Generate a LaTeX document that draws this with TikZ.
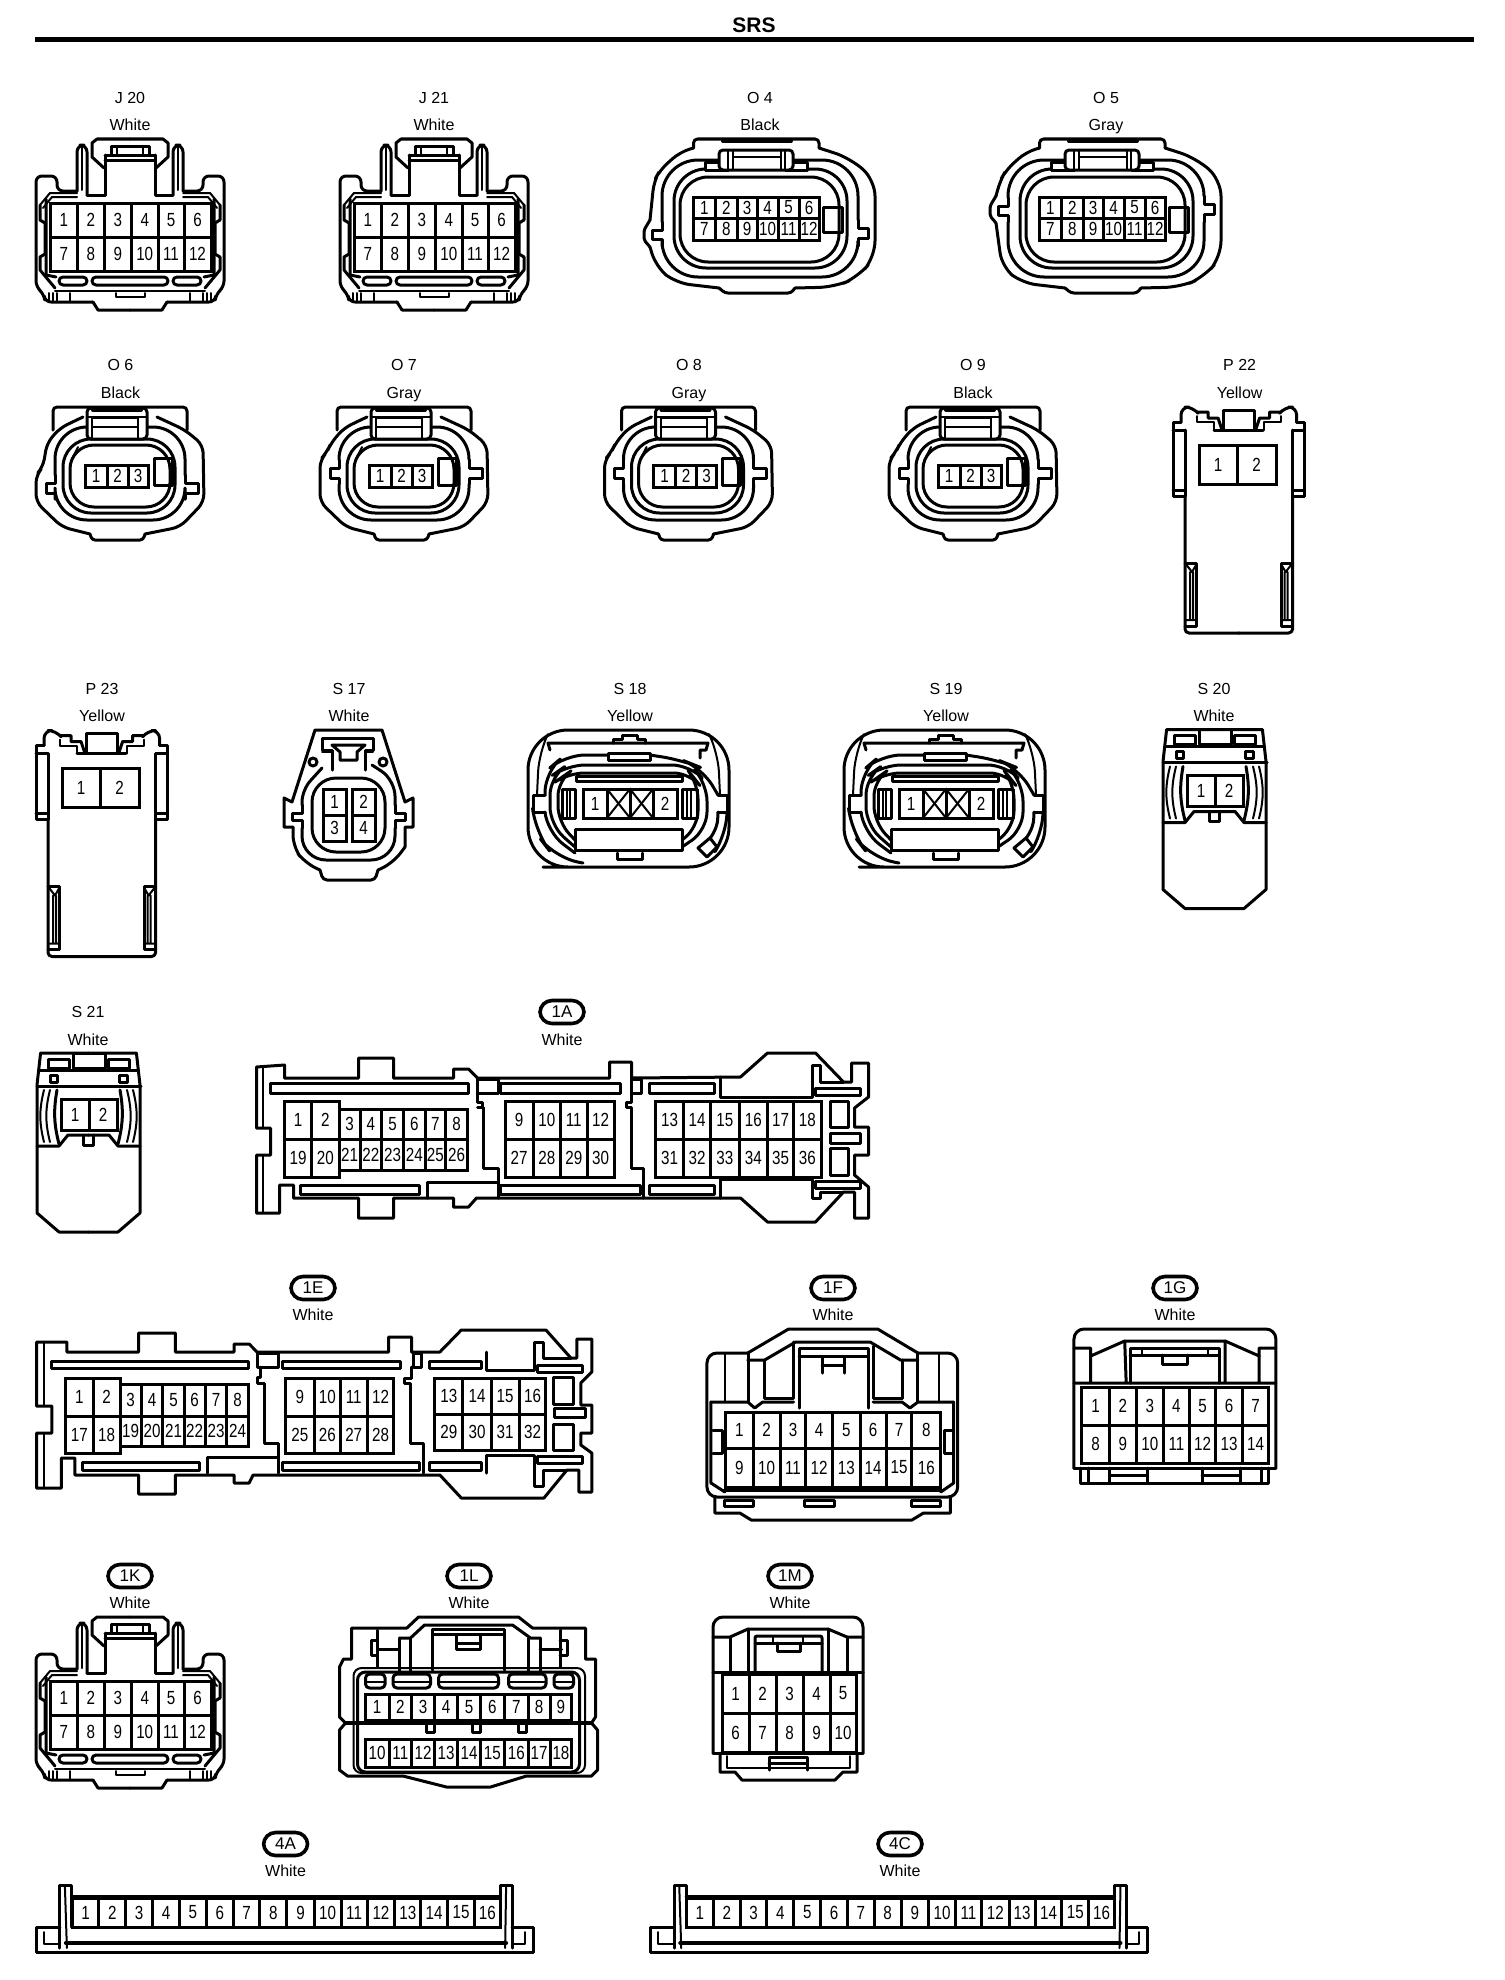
\documentclass[tikz,border=0pt]{standalone}
\usepackage{graphicx}
\usepackage{fontspec}
\setmainfont{Liberation Sans}
\tikzset{
  ln/.style={line width=1.5pt,line join=round,line cap=round},
  tn/.style={line width=1pt,line join=round,line cap=round},
  hv/.style={line width=2pt,line join=round,line cap=round},
  pinbox/.style={line width=1.5pt,line join=miter},
  num/.style={inner sep=0pt,font=\fontsize{9.5}{10}\selectfont},
  lab/.style={inner sep=0pt,text height=6pt,text depth=0pt,yshift=0.4pt,font=\fontsize{8}{9}\selectfont},
  pill/.style={draw,line width=1.8pt,rounded corners=6pt,minimum width=22pt,minimum height=11.5pt,inner sep=0pt,font=\fontsize{8.5}{9}\selectfont}
}
\newcommand{\cellrow}[5]{%
  \foreach \xe/\pn [remember=\xe as \xs (initially #4)] in {#5} {
    \draw[pinbox] (\xs,#2) rectangle (\xe,#3);
    \node[num] (#1-\pn) at ({(\xs+\xe)/2},{(#2+#3)/2}) {\scalebox{0.8}[1]{\pn}};
  }}
\newcommand{\conlabel}[6]{%
  \node[lab] (#1-id) at (#2,#3) {#5};
  \node[lab] (#1-col) at (#2,#4) {#6};}
\newcommand{\pilllabel}[6]{%
  \node[pill] (#1-id) at (#2,#3) {#5};
  \node[lab] (#1-col) at (#2,#4) {#6};}
% half of the J / 1K housing
\newcommand{\jhalf}{%
  \draw[ln,rounded corners=3] (77,191)--(57,191)--(57,176)--(36,176)--(36,287)--(44,294)--(45,302)--(93,302);
  \draw[ln,rounded corners=3.5] (77,191)--(77,145)--(87,145)--(87,195);
  \draw[ln] (87,195)--(105,195)--(105,165);
  \draw[ln] (130,139)--(97,139)--(92,143)--(92,157)--(104,168);
  \draw[tn] (40,205)--(50,193)--(77,193);
  \draw[tn] (43,208)--(52,197)--(77,197);
  \draw[ln] (40,205)--(40,220)--(45,223)--(45,254)--(40,257)--(40,270)--(55,288);
  \draw[tn] (55,291)--(130,291);
  \draw[tn] (49,293)--(49,302) (53,293)--(53,302) (70,293)--(70,302) (57,293)--(57,302);
  \draw[ln] (93,302)--(98,310)--(130,310);
  \draw[tn] (82,146)--(82,190);
  \draw[ln,rounded corners=2] (59,277) rectangle (87,285);
  \draw[ln] (46,199)--(46,275)--(56,277);
}
\newcommand{\jconn}[1]{%
  \jhalf
  \begin{scope}[shift={(260,0)},xscale=-1]\jhalf\end{scope}
  \draw[ln] (105,155)--(155,155) (105,160)--(155,160) (105,155)--(105,165) (155,155)--(155,165);
  \draw[ln] (111,146) rectangle (149,155);
  \draw[tn] (117,146)--(117,155) (143,146)--(143,155);
  \draw[ln,rounded corners=2] (92,277) rectangle (168,285);
  \draw[tn] (116,293)--(116,297)--(145,297)--(145,293);
  \cellrow{#1}{203}{237}{50}{77.5/1,104/2,131.5/3,158/4,184/5,211/6}
  \cellrow{#1}{237}{271}{50}{77.5/7,104/8,131.5/9,158/10,184/11,211/12}
}
% O4 / O5 housing; #2 = vertical offset of side notches
\newcommand{\oconn}[2]{%
  \draw[ln,rounded corners=2] (693.5,148)--(693.5,139)--(819,139)--(819,148);
  \draw[ln,rounded corners=8] (819,148)--(850,158)--(875,180)--(875,257)--(858,277)--(835,287)--(795,288);
  \draw[ln,rounded corners=1.5] (795,288)--(791,293)--(725,293)--(719,288);
  \draw[ln,rounded corners=7] (719,288)--(676,283)--(656,267)--(650,{247+#2});
  \draw[ln,rounded corners=1] (650,{247+#2})--(644,{240+#2})--(644,{230+#2})--(650,{220+#2});
  \draw[ln,rounded corners=5] (650,{220+#2})--(654,181)--(660,170)--(680,152)--(693.5,148);
  % ring with side notches
  \draw[ln] (662,{222+#2})--(662,{230+#2})--(652,{230+#2})--(652,{239+#2})--(662,{239+#2})--(662,{246+#2});
  \draw[ln,rounded corners=18] (662,{246+#2})--(662,277)--(858,277)--(858,{246+#2});
  \draw[ln] (858,{246+#2})--(858,{238+#2})--(868,{238+#2})--(868,{228+#2})--(858,{228+#2})--(858,{220+#2});
  \draw[ln,rounded corners=18] (858,{220+#2})--(858,160)--(662,160)--(662,{222+#2});
  \draw[ln,rounded corners=16] (674,169) rectangle (847,268);
  \draw[ln,rounded corners=14] (680,177) rectangle (839,262);
  \draw[ln,fill=white] (705.5,162) rectangle (728,170) (785,162) rectangle (807,170);
  \draw[ln,fill=white,rounded corners=2] (719,170)--(719,150)--(793,150)--(793,170)--cycle;
  \draw[tn] (728,150)--(728,170) (733,150)--(733,170) (781,150)--(781,170) (785,150)--(785,170) (733,157)--(781,157);
  \draw[hv] (723,141)--(791,141);
  \cellrow{#1}{197}{218}{693.5}{715.4/1,737.3/2,757/3,778.2/4,799/5,819/6}
  \cellrow{#1}{218}{240}{693.5}{715.4/7,737.3/8,757/9,778.2/10,799/11,819/12}
  \draw[ln] (823.5,207)--(842.6,207)--(842.6,232)--(823.5,232)--cycle;
}
% O6..O9 housing
\newcommand{\tconn}[2]{%
  \draw[ln,rounded corners=2] (53,430)--(53,407)--(187,407)--(187,430);
  \draw[ln,rounded corners=4] (83,417)--(60,428)--(47,443)--(43,{467+#2})--(36,{475+#2})--(36,502)--(62,527)--(90,534);
  \draw[ln,rounded corners=1.5] (90,534)--(92,540)--(143,540)--(145,534);
  \draw[ln,rounded corners=4] (145,534)--(180,527)--(204,502)--(203,445)--(185,430)--(157,417);
  % ring with side notches
  \draw[ln] (55,{475+#2})--(55,{483+#2})--(46,{483+#2})--(46,{493+#2})--(55,{493+#2})--(55,{499+#2});
  \draw[ln,rounded corners=16] (55,{499+#2})--(55,520)--(185,520)--(185,{499+#2});
  \draw[ln] (185,{499+#2})--(185,{493+#2})--(198,{493+#2})--(198,{483+#2})--(185,{483+#2})--(185,{475+#2});
  \draw[ln,rounded corners=16] (185,{475+#2})--(185,427)--(55,427)--(55,{475+#2});
  \draw[ln,rounded corners=14] (63,439) rectangle (175,513);
  \draw[ln,rounded corners=12] (70,445) rectangle (170,507);
  \draw[tn] (72,459)--(78,447);
  \draw[ln,fill=white,rounded corners=2] (87,439)--(87,408)--(147,408)--(147,439)--cycle;
  \draw[tn] (92,418)--(92,439) (138,418)--(138,439) (92,418)--(138,418) (92,427)--(138,427) (87,417)--(147,417);
  \draw[hv] (93,410)--(141,410);
  \cellrow{#1}{465}{487}{85}{107/1,128/2,148/3}
  \draw[ln] (154,458)--(172,458)--(172,485)--(154,485)--cycle;
}
% P22 / P23 housing
\newcommand{\phalf}{%
  \draw[ln] (1185,496)--(1173,496)--(1173,422)--(1181,422);
  \draw[ln,rounded corners=4] (1181,422)--(1181,407)--(1193,407)--(1197,412);
  \draw[ln] (1197,412)--(1208,412)--(1208,418)--(1218,418)--(1222,430);
  \draw[tn] (1197,416)--(1197,422)--(1214,422)--(1214,430);
  \draw[ln] (1173,430)--(1185,430) (1173,490)--(1185,490) (1185,430)--(1185,496);
  \draw[ln] (1185,496)--(1185,628) [rounded corners=2] --(1185,633)--(1239,633);
  \draw[ln] (1185,563)--(1196,563)--(1196,626)--(1185,626);
  \draw[tn] (1190,572)--(1190,620) (1185,563)--(1192,572)--(1196,565) (1185,620)--(1196,620) (1193,572)--(1193,620);
}
\newcommand{\pconn}[1]{%
  \phalf
  \begin{scope}[shift={(2477.6,0)},xscale=-1]\phalf\end{scope}
  \draw[ln] (1214,430)--(1263,430);
  \draw[ln] (1223,422)--(1223,410)--(1254,410)--(1254,422);
  \draw[ln] (1223,422)--(1223,430) (1254,422)--(1254,430);
  \cellrow{#1}{445}{484}{1199}{1237/1,1276/2}
}
% S18 / S19 housing
\newcommand{\rconn}[1]{%
  \draw[ln,rounded corners=20] (583,867)--(528,867)--(528,730)--(729,730)--(729,867)--cycle;
  \draw[tn,rounded corners=10] (537,795)--(539,752)--(545,740);
  \draw[tn,rounded corners=10] (720,795)--(718,752)--(712,740);
  \draw[ln,rounded corners=12] (533,812)--(535,832)--(555,858)--(583,863);
  \draw[ln,rounded corners=10] (727,812)--(726,835)--(716,850);
  \draw[ln] (613,743)--(613,739)--(622,739)--(622,735)--(637,735)--(637,739)--(645,739)--(645,743);
  \draw[ln] (550,750)--(548,743)--(708,743)--(706,750)--(700,750)--(700,758);
  \draw[ln] (608,753)--(650,753)--(650,760)--(608,760)--cycle;
  % ring A
  \draw[ln] (545,795)--(533,795)--(533,812)--(545,812);
  \draw[ln,rounded corners=10] (545,812)--(547,832)--(575,853);
  \draw[ln,rounded corners=10] (545,795)--(545,772)--(565,755)--(608,755);
  \draw[ln,rounded corners=10] (650,755)--(682,760)--(702,768)--(718,795);
  \draw[ln] (718,795)--(727,795)--(727,812)--(718,812);
  \draw[ln,rounded corners=8] (718,812)--(717,835)--(703,845);
  % ring B
  \draw[ln,rounded corners=9] (575,847)--(550,825)--(550,777)--(567,765)--(690,765)--(707,783)--(707,830)--(682,847);
  % ring C
  \draw[ln,rounded corners=8] (575,840)--(558,822)--(558,780)--(568,773)--(690,773)--(698,783)--(698,827)--(682,840);
  \draw[ln] (576,776) rectangle (682,781);
  \draw[ln,fill=white] (575,829) rectangle (682,850);
  \draw[ln] (617,853)--(617,859)--(642,859)--(642,853);
  \draw[ln] (562,789) rectangle (575,818) (682,789) rectangle (697,818);
  \draw[tn] (567,789)--(567,818) (570,789)--(570,818) (687,789)--(687,818) (691,789)--(691,818);
  \cellrow{#1}{789}{818}{583}{607/1}
  \cellrow{#1}{789}{818}{653}{677/2}
  \draw[ln] (607,789) rectangle (653,818) (630,789)--(630,818);
  \draw[tn] (607,789)--(630,818) (630,789)--(607,818) (630,789)--(653,818) (653,789)--(630,818);
  \draw[ln,fill=white] (710,838)--(717,847)--(707,857)--(698,848)--cycle;
}
% S20 / S21 housing
\newcommand{\shalf}{%
  \draw[ln] (88.5,1053)--(40.6,1053)--(37,1085)--(37,1213)--(59,1232)--(88.5,1232);
  \draw[ln] (48,1059) rectangle (69,1068);
  \draw[ln] (50,1075) rectangle (57.5,1082);
  \draw[tn] (44,1090) to[bend right=14] (44,1142);
  \draw[tn] (50,1090) to[bend right=14] (50,1142);
  \draw[ln] (57,1090) to[bend right=12] (59,1144);
  \draw[ln] (37,1146)--(59,1146)--(68,1135)--(88.5,1135);
}
\newcommand{\sconn}[1]{%
  \shalf
  \begin{scope}[shift={(177,0)},xscale=-1]\shalf\end{scope}
  \draw[ln] (73,1053) rectangle (105.5,1068);
  \draw[ln] (40,1070)--(137,1070);
  \draw[ln] (37,1086)--(141,1086);
  \draw[ln] (83,1135)--(83,1145)--(93,1145)--(93,1135);
  \cellrow{#1}{1099}{1130}{61}{89/1,117/2}
}
\begin{document}
\begin{tikzpicture}[x=0.5pt,y=-0.5pt]
\useasboundingbox (0,0) rectangle (1504,1980);
\node[inner sep=0pt,font=\bfseries\fontsize{10.5}{11}\selectfont] (title) at (754,25) {SRS};
\coordinate (ruleL) at (35,40);
\coordinate (ruleR) at (1474,40);
\draw[line width=2.5pt] (ruleL)--(ruleR);

% ---- J20, J21
\conlabel{j20}{130}{98.5}{125}{J 20}{White}
\jconn{j20}
\conlabel{j21}{434}{98.5}{125}{J 21}{White}
\begin{scope}[shift={(304,0)}]\jconn{j21}\end{scope}
% ---- O4, O5
\conlabel{o4}{760}{98.5}{125}{O 4}{Black}
\oconn{o4}{0}
\conlabel{o5}{1106}{98.5}{125}{O 5}{Gray}
\begin{scope}[shift={(346,0)}]\oconn{o5}{-24}\end{scope}
% ---- O6-O9
\conlabel{o6}{120.5}{365}{393}{O 6}{Black}
\tconn{o6}{0}
\conlabel{o7}{404}{365}{393}{O 7}{Gray}
\begin{scope}[shift={(284,0)}]\tconn{o7}{-15}\end{scope}
\conlabel{o8}{689}{365}{393}{O 8}{Gray}
\begin{scope}[shift={(568.5,0)}]\tconn{o8}{-15}\end{scope}
\conlabel{o9}{973}{365}{393}{O 9}{Black}
\begin{scope}[shift={(853,0)}]\tconn{o9}{-15}\end{scope}
% ---- P22, P23
\conlabel{p22}{1239.6}{365}{393}{P 22}{Yellow}
\pconn{p22}
\conlabel{p23}{102}{689}{716}{P 23}{Yellow}
\begin{scope}[shift={(-1137,323.5)}]\pconn{p23}\end{scope}
% ---- S17
\conlabel{s17}{349}{689}{716}{S 17}{White}
\draw[ln] (293,827)--(284,827)--(284,798)--(292,802)--(315,730)--(382,730)--(405,802)--(413,798)--(413,827)--(405,827)--(405,847);
\draw[ln,rounded corners=6] (405,847)--(393,863)--(378,870);
\draw[ln,rounded corners=2] (378,870)--(375,880)--(323,880)--(320,870);
\draw[ln,rounded corners=6] (320,870)--(305,863)--(293,847)--(293,827);
\draw[ln] (302,805)--(302,813)--(292,813)--(292,820)--(302,820)--(302,828);
\draw[ln,rounded corners=12] (302,828)--(302,860)--(395,860)--(395,828);
\draw[ln] (395,828)--(395,820)--(405,820)--(405,813)--(395,813)--(395,805);
\draw[ln,rounded corners=8] (395,805)--(395,780)--(372,765);
\draw[ln,rounded corners=6] (302,805)--(302,790)--(322,768);
\draw[ln,rounded corners=12] (312,778) rectangle (385,852);
\draw[ln,fill=white] (332,770)--(332,750)--(322,750)--(322,738)--(373,738)--(373,750)--(365,750)--(365,770);
\draw[ln] (332,745)--(365,745)--(357,752)--(357,760)--(340,760)--(340,752)--cycle;
\draw[tn] (322,752)--(332,752) (365,752)--(373,752);
\draw[ln] (313,762) circle (4) (383,762) circle (4);
\cellrow{s17}{789}{815}{323}{346/1}
\cellrow{s17}{815}{841}{323}{346/3}
\cellrow{s17}{789}{815}{352}{375/2}
\cellrow{s17}{815}{841}{352}{375/4}
% ---- S18, S19
\conlabel{s18}{630}{689}{716}{S 18}{Yellow}
\rconn{s18}
\conlabel{s19}{946}{689}{716}{S 19}{Yellow}
\begin{scope}[shift={(316,0)}]\rconn{s19}\end{scope}
% ---- S20, S21
\conlabel{s20}{1214}{689}{716}{S 20}{White}
\begin{scope}[shift={(1126,-323.5)}]\sconn{s20}\end{scope}
\conlabel{s21}{88}{1012}{1040}{S 21}{White}
\sconn{s21}
% ---- 1A
\pilllabel{c1a}{562}{1012}{1040}{1A}{White}
\begin{scope}[shift={(-2.5,0)}]
\draw[ln] (259,1067)--(287,1065)--(287,1078)--(361,1078)--(361,1058)--(396,1058)--(396,1078)--(456,1078)--(456,1069)--(471,1069)--(480,1078)--(612,1078)--(612,1062)--(634,1062)--(634,1078)--(743,1077)--(770,1053)--(818,1053)--(846,1082)--(854,1082)--(854,1063)--(871,1063)--(871,1097)--(857,1108)--(857,1127)--(871,1127)--(871,1155)--(857,1155)--(857,1175)--(871,1187)--(871,1218)--(857,1218)--(857,1192)--(846,1192)--(818,1222)--(770,1222)--(743,1198)--(479,1198)--(471,1207)--(456,1207)--(456,1198)--(396,1198)--(396,1218)--(361,1218)--(361,1198)--(296,1198)--(296,1185)--(282,1185)--(282,1213)--(259,1213)--(259,1155)--(273,1155)--(273,1128)--(259,1128)--cycle;
\draw[tn] (265,1067)--(265,1128) (265,1155)--(265,1213);
\draw[ln] (273,1083) rectangle (471,1093) (303,1185) rectangle (422,1194) (503,1083) rectangle (623,1093) (503,1185) rectangle (643,1194) (652,1083) rectangle (717,1093) (652,1185) rectangle (717,1194);
\draw[ln] (480,1079) rectangle (501,1093) (634,1079) rectangle (644,1093);
\draw[ln] (480,1093)--(480,1102)--(485,1102)--(485,1107)--(480,1107)--(486,1107)--(486,1168)--(501,1168)--(501,1198);
\draw[ln] (634,1093)--(634,1102)--(629,1102)--(629,1107)--(634,1107)--(634,1168)--(646,1168)--(646,1198);
\draw[ln] (430,1198)--(430,1182)--(501,1182);
\draw[ln] (723,1077)--(723,1097)--(815,1097)--(815,1065)--(823,1065)--(823,1082)--(846,1082);
\draw[ln] (723,1198)--(723,1179)--(815,1179)--(815,1198)--(823,1198)--(823,1192)--(846,1192);
\draw[ln] (818,1088) rectangle (863,1095) (818,1181) rectangle (863,1188);
\draw[ln] (833,1101) rectangle (851,1127) (833,1133) rectangle (863,1143) (833,1148) rectangle (851,1175);
\cellrow{c1a}{1101}{1139}{287}{314/1,341.7/2}
\cellrow{c1a}{1139}{1177}{287}{314/19,341.7/20}
\cellrow{c1a}{1109}{1139}{341.7}{362.6/3,384/4,406/5,427.5/6,448/7,470/8}
\cellrow{c1a}{1139}{1170}{341.7}{362.6/21,384/22,406/23,427.5/24,448/25,470/26}
\cellrow{c1a}{1101}{1139}{507.5}{535.6/9,563/10,589.5/11,616.5/12}
\cellrow{c1a}{1139}{1177}{507.5}{535.6/27,563/28,589.5/29,616.5/30}
\cellrow{c1a}{1101}{1139}{658}{686/13,713/14,741.6/15,770/16,796/17,823.5/18}
\cellrow{c1a}{1139}{1177}{658}{686/31,713/32,741.6/33,770/34,796/35,823.5/36}
\end{scope}
% ---- 1E
\pilllabel{c1e}{313}{1288}{1315.5}{1E}{White}
\begin{scope}[shift={(0.15,0)},xscale=0.996]
\draw[ln] (36.5,1342)--(67,1342)--(67,1352)--(139,1352)--(139,1333)--(176,1333)--(176,1352)--(235,1352)--(235,1344)--(250,1344)--(258,1352)--(390,1352)--(390,1337)--(413,1337)--(413,1352)--(441.5,1352)--(463,1330)--(548,1330)--(573,1358)--(579,1358)--(579,1339)--(594,1339)--(594,1372)--(583,1383)--(583,1405)--(594,1405)--(594,1433)--(583,1433)--(583,1445)--(594,1453)--(594,1492)--(581,1492)--(581,1470)--(569,1470)--(546,1498)--(463,1498)--(441.5,1475)--(254,1475)--(250,1483)--(235,1483)--(235,1475)--(176,1475)--(176,1494)--(139,1494)--(139,1475)--(75,1475)--(75,1458)--(61.5,1458)--(61.5,1488)--(36.5,1488)--(36.5,1433)--(52,1433)--(52,1406)--(36.5,1406)--cycle;
\draw[tn] (44,1342)--(44,1406) (44,1433)--(44,1488);
\draw[ln] (52,1361) rectangle (249,1368) (83,1462) rectangle (200,1470) (283,1361) rectangle (402,1368) (283,1462) rectangle (421,1470) (431.5,1361) rectangle (483,1368) (431.5,1462) rectangle (483,1470);
\draw[ln] (258,1353) rectangle (279,1367) (415,1353) rectangle (423,1367);
\draw[ln] (261.5,1367)--(261.5,1377)--(258,1377)--(258,1383)--(265,1383)--(265,1443)--(279,1443)--(279,1473);
\draw[ln] (413,1367)--(413,1378)--(406,1378)--(406,1383)--(412,1383)--(412,1443)--(425,1443)--(425,1473);
\draw[ln] (208,1473)--(208,1457)--(279,1457);
\draw[ln] (488,1352)--(488,1370)--(536.5,1370)--(536.5,1342)--(546,1342)--(546,1358)--(573,1358);
\draw[ln] (488,1473)--(488,1455)--(536.5,1455)--(536.5,1486)--(546,1486)--(546,1470)--(569,1470);
\draw[ln] (540,1365) rectangle (585,1372) (540,1456) rectangle (585,1463);
\draw[ln] (556,1377) rectangle (576,1404) (557,1408) rectangle (588,1417) (556,1424) rectangle (576,1450);
\cellrow{c1e}{1378}{1416}{65.4}{93.5/1,120.4/2}
\cellrow{c1e}{1416}{1453}{65.4}{93.5/17,120.4/18}
\cellrow{c1e}{1384}{1416}{120.4}{141.5/3,163.5/4,184.6/5,205.8/6,227.7/7,249.2/8}
\cellrow{c1e}{1416}{1446}{120.4}{141.5/19,163.5/20,184.6/21,205.8/22,227.7/23,249.2/24}
\cellrow{c1e}{1378}{1416}{286.5}{315.4/9,341.5/10,368.5/11,395.4/12}
\cellrow{c1e}{1416}{1453}{286.5}{315.4/25,341.5/26,368.5/27,395.4/28}
\cellrow{c1e}{1378}{1414}{436.5}{464.6/13,493/14,521/15,548/16}
\cellrow{c1e}{1414}{1450}{436.5}{464.6/29,493/30,521/31,548/32}
\end{scope}
% ---- 1F
\pilllabel{c1f}{833}{1288}{1315.5}{1F}{White}
\begin{scope}[shift={(3.5,0)},xscale=0.995]
\draw[ln,rounded corners=5] (748,1353)--(707,1353)--(707,1497)--(959,1497)--(959,1353)--(919,1353);
\draw[ln] (748,1353)--(789,1329)--(878.5,1329)--(919,1353);
\draw[ln] (715,1497)--(715,1513)--(740,1513)--(751.5,1520)--(913,1520)--(924.6,1513)--(951.5,1513)--(951.5,1497);
\draw[ln] (724.6,1500) rectangle (753.5,1506) (805,1500) rectangle (835.4,1506) (913,1500) rectangle (942,1506);
\draw[ln] (723,1490)--(944,1490);
\draw[tn] (725.4,1353)--(725.4,1402) (940,1353)--(940,1402);
\draw[ln] (748.5,1353)--(748.5,1402) (919,1353)--(919,1402);
\draw[ln] (748,1360)--(765,1360)--(796,1342)--(871,1342)--(901.5,1360)--(919,1360);
\draw[ln] (765,1360)--(765,1398)--(794,1398)--(794,1342);
\draw[ln] (874.6,1346)--(874.6,1398)--(903.5,1398)--(903.5,1360);
\draw[ln] (799.6,1408)--(799.6,1348)--(869,1348)--(869,1408);
\draw[ln] (799.6,1356)--(869,1356);
\draw[ln] (822.7,1358)--(822.7,1373) (845,1358)--(845,1373) (822.7,1365)--(845,1365);
\draw[ln] (711,1402)--(748,1402)--(755,1408)--(763,1402)--(794,1402);
\draw[ln] (955,1402)--(919,1402)--(911,1408)--(903,1402)--(874,1402);
\draw[ln] (711,1402)--(711,1483)--(725,1492) (955,1402)--(955,1483)--(942,1492);
\draw[ln] (713,1430)--(723,1430)--(723,1453)--(713,1453) (955,1430)--(946,1430)--(946,1453)--(955,1453);
\cellrow{c1f}{1412}{1448}{725.4}{753.5/1,780.4/2,806.5/3,833/4,861/5,887/6,913/7,942/8}
\cellrow{c1f}{1448}{1487}{725.4}{753.5/9,780.4/10,806.5/11,833/12,861/13,887/14,913/15,942/16}
\end{scope}
% ---- 1G
\pilllabel{c1g}{1175}{1288}{1315.5}{1G}{White}
\begin{scope}[shift={(15.1,0)},xscale=0.985]
\draw[ln,rounded corners=5] (1075,1468)--(1075,1329)--(1280,1329)--(1280,1468);
\draw[ln] (1075,1468)--(1280,1468);
\draw[ln] (1082,1468)--(1082,1483)--(1272.7,1483)--(1272.7,1468);
\draw[ln] (1090,1468)--(1090,1483) (1111,1468)--(1111,1483) (1149.6,1468)--(1149.6,1483) (1205,1468)--(1205,1483) (1244,1468)--(1244,1483) (1265,1468)--(1265,1483) (1111,1475)--(1149.6,1475) (1205,1475)--(1244,1475);
\draw[ln] (1075,1348)--(1092,1348)--(1092,1356)--(1126.5,1341)--(1228.5,1341)--(1263,1356)--(1263,1348)--(1280,1348);
\draw[ln] (1092,1356)--(1092,1383) (1263,1356)--(1263,1383) (1075,1383)--(1280,1383) (1126.5,1341)--(1128,1383) (1228.5,1341)--(1228.5,1383);
\draw[ln] (1132,1383)--(1132,1348)--(1222.7,1348)--(1222.7,1383);
\draw[ln] (1132,1355)--(1222.7,1355);
\draw[ln] (1165,1355)--(1165,1364)--(1190,1364)--(1190,1355);
\draw[tn] (1144,1349)--(1144,1355) (1211,1349)--(1211,1355);
\cellrow{c1g}{1387}{1425}{1083}{1111/1,1138/2,1166/3,1192/4,1219/5,1246/6,1272.6/7}
\cellrow{c1g}{1425}{1463}{1083}{1111/8,1138/9,1166/10,1192/11,1219/12,1246/13,1272.6/14}
\end{scope}
% ---- 1K
\pilllabel{c1k}{130}{1576}{1603.5}{1K}{White}
\begin{scope}[shift={(0,1478)}]\jconn{c1k}\end{scope}
% ---- 1L
\pilllabel{c1l}{469}{1576}{1603.5}{1L}{White}
\begin{scope}[shift={(-2.5,0)}]
\draw[ln] (421,1617)--(521,1617)--(535,1628)--(588,1628)--(588,1659)--(598,1659)--(598,1717)--(594,1723)--(600,1730)--(600,1770)--(594,1776)--(529,1776)--(493,1787)--(449,1787)--(405.5,1776)--(350,1776)--(342,1770)--(342,1730)--(348,1723)--(342,1717)--(342,1667)--(346,1659)--(354,1659)--(354,1628)--(409.4,1628)--cycle;
\draw[hv] (348,1723)--(594,1723);
\draw[ln,rounded corners=4] (360,1672) rectangle (582,1772);
\draw[tn,rounded corners=4] (356,1668) rectangle (587.5,1773);
\draw[ln,rounded corners=2] (368,1674) rectangle (387.6,1688) (395.5,1674) rectangle (433,1688) (441,1674) rectangle (501,1688) (511,1674) rectangle (548.5,1688) (556.5,1674) rectangle (576,1688);
\draw[tn] (368,1682)--(387.6,1682) (395.5,1682)--(433,1682) (441,1682)--(501,1682) (511,1682)--(548.5,1682) (556.5,1682)--(576,1682);
\draw[ln] (435,1670)--(435,1629)--(507,1629)--(507,1670) (435,1634)--(507,1634);
\draw[ln] (459,1636)--(459,1649)--(483,1649)--(483,1636) (459,1643)--(483,1643);
\draw[ln] (402,1638)--(413,1638)--(427,1625)--(515,1625)--(533,1638)--(542.6,1638);
\draw[ln] (402,1638)--(402,1672) (413,1638)--(413,1672) (402,1672)--(413,1672) (531,1638)--(531,1672) (542.6,1638)--(542.6,1672) (531,1672)--(542.6,1672);
\draw[ln] (380,1630)--(380,1667) (562.5,1630)--(562.5,1667);
\draw[ln] (380,1640)--(374,1640)--(374,1655)--(380,1655) (380,1649)--(402,1649);
\draw[ln] (562.5,1640)--(570,1640)--(570,1655)--(562.5,1655) (542.6,1649)--(564,1649);
\draw[ln] (429,1725)--(429,1732)--(437,1732)--(437,1725) (475,1725)--(475,1732)--(483,1732)--(483,1725) (521,1725)--(521,1732)--(529,1732)--(529,1725);
\cellrow{c1l}{1694}{1720}{367.7}{391.5/1,414.2/2,437/3,460.3/4,483/5,506.8/6,530.7/7,552.5/8,574.4/9}
\cellrow{c1l}{1739}{1767}{367.7}{391.5/10,414.2/11,437/12,460.3/13,483/14,506.8/15,530.7/16,552.5/17,574.4/18}
\end{scope}
% ---- 1M
\pilllabel{c1m}{790}{1576}{1603.5}{1M}{White}
\draw[ln,rounded corners=5] (713,1753)--(713,1617)--(863,1617)--(863,1753);
\draw[ln] (713,1753)--(863,1753);
\draw[ln] (713,1637)--(730,1637)--(748,1629)--(828,1629)--(847,1637)--(863,1637);
\draw[ln] (730,1637)--(730,1672) (847,1637)--(847,1672) (748,1629)--(748,1672) (828,1629)--(828,1672) (713,1672)--(863,1672);
\draw[ln,rounded corners=1] (755,1672)--(755,1636)--(822,1636)--(822,1672);
\draw[ln] (755,1643)--(822,1643);
\draw[ln] (777,1643)--(777,1651)--(800,1651)--(800,1643);
\draw[tn] (773,1637)--(773,1643) (803,1637)--(803,1643);
\draw[ln] (720,1753)--(720,1772)--(735,1772)--(742,1780)--(835,1780)--(843,1772)--(857,1772)--(857,1753);
\draw[tn] (727,1756)--(727,1768)--(850,1768)--(850,1756);
\draw[ln] (769,1770)--(769,1757)--(807,1757)--(807,1770) (769,1763)--(807,1763);
\cellrow{c1m}{1674}{1713}{722}{749/1,776/2,803/3,830/4,856/5}
\cellrow{c1m}{1713}{1752}{722}{749/6,776/7,803/8,830/9,856/10}
% ---- 4A, 4C
\newcommand{\fconn}[1]{%
  \draw[ln] (60,1927)--(36.5,1927)--(36.5,1952)--(535,1952)--(535,1927)--(514,1927);
  \draw[tn] (44,1932)--(44,1944)--(60,1944) (527,1932)--(527,1944)--(514,1944);
  \draw[ln] (60,1948)--(60,1885)--(72,1885)--(72,1927);
  \draw[tn] (65,1886)--(67,1948);
  \draw[ln] (514.5,1948)--(514.5,1885)--(502,1885)--(502,1927);
  \draw[tn] (508,1886)--(507,1948);
  \draw[ln] (72,1896)--(502,1896);
  \draw[hv] (66,1943)--(508,1943);
  \cellrow{#1}{1898}{1927}{72.3}{99.2/1,126.2/2,153/3,180/4,207/5,234/6,260.8/7,287.7/8,315.4/9,342.3/10,368.5/11,396.2/12,422.3/13,449.2/14,476.2/15,502/16}
}
\pilllabel{c4a}{285.6}{1844}{1871.5}{4A}{White}
\begin{scope}[shift={(0.15,0)},xscale=0.996]\fconn{c4a}\end{scope}
\pilllabel{c4c}{900}{1844}{1871.5}{4C}{White}
\begin{scope}[shift={(614.5,0)},xscale=0.996]\fconn{c4c}\end{scope}
\end{tikzpicture}
\end{document}
